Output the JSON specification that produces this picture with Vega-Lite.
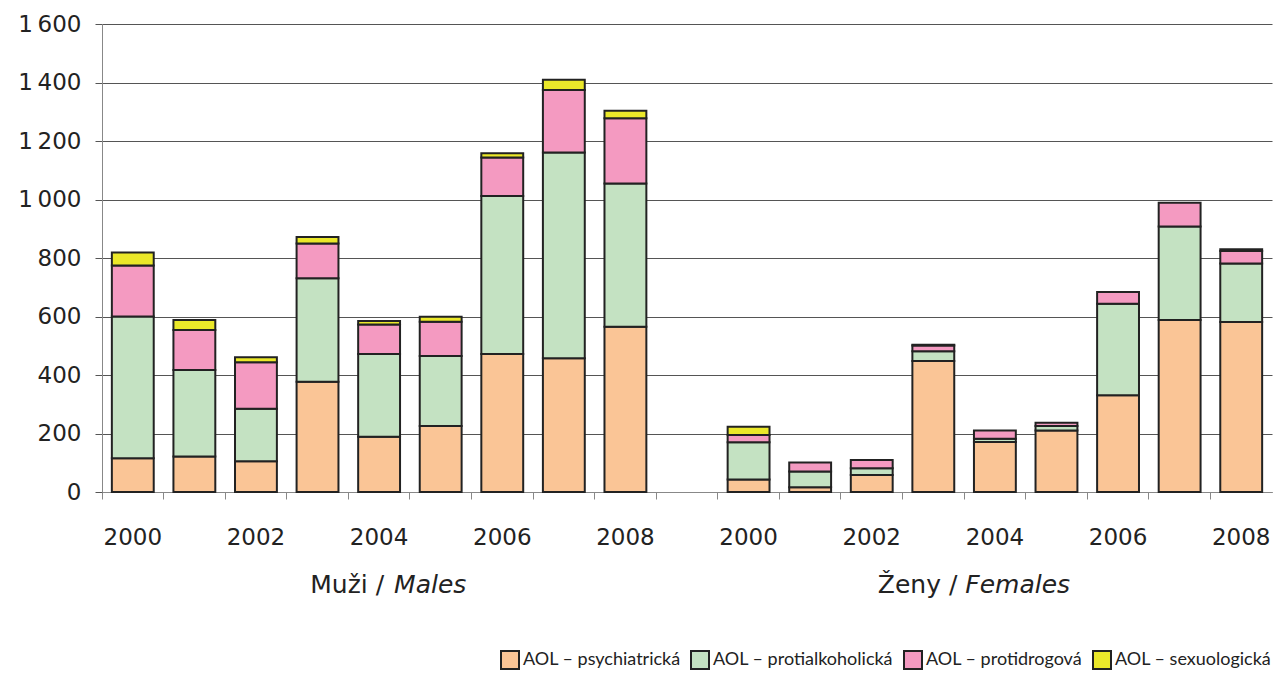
{
  "$schema": "https://vega.github.io/schema/vega-lite/v6.json",
  "width": 1170,
  "height": 468,
  "autosize": {"type": "none"},
  "padding": {"left": 102, "top": 24, "right": 8, "bottom": 181},
  "background": "white",
  "config": {"font": "DejaVu Sans", "view": {"stroke": null}, "legend": {"labelFont": "Lato"}},
  "datasets": {
    "bars": [
      {"k":"M2000","n":1,"t":"AOL – psychiatrická","v":115},{"k":"M2000","n":2,"t":"AOL – protialkoholická","v":485},{"k":"M2000","n":3,"t":"AOL – protidrogová","v":174},{"k":"M2000","n":4,"t":"AOL – sexuologická","v":45},
      {"k":"M2001","n":1,"t":"AOL – psychiatrická","v":121},{"k":"M2001","n":2,"t":"AOL – protialkoholická","v":296},{"k":"M2001","n":3,"t":"AOL – protidrogová","v":137},{"k":"M2001","n":4,"t":"AOL – sexuologická","v":34},
      {"k":"M2002","n":1,"t":"AOL – psychiatrická","v":105},{"k":"M2002","n":2,"t":"AOL – protialkoholická","v":180},{"k":"M2002","n":3,"t":"AOL – protidrogová","v":159},{"k":"M2002","n":4,"t":"AOL – sexuologická","v":17},
      {"k":"M2003","n":1,"t":"AOL – psychiatrická","v":377},{"k":"M2003","n":2,"t":"AOL – protialkoholická","v":354},{"k":"M2003","n":3,"t":"AOL – protidrogová","v":119},{"k":"M2003","n":4,"t":"AOL – sexuologická","v":22},
      {"k":"M2004","n":1,"t":"AOL – psychiatrická","v":189},{"k":"M2004","n":2,"t":"AOL – protialkoholická","v":283},{"k":"M2004","n":3,"t":"AOL – protidrogová","v":101},{"k":"M2004","n":4,"t":"AOL – sexuologická","v":12},
      {"k":"M2005","n":1,"t":"AOL – psychiatrická","v":226},{"k":"M2005","n":2,"t":"AOL – protialkoholická","v":239},{"k":"M2005","n":3,"t":"AOL – protidrogová","v":117},{"k":"M2005","n":4,"t":"AOL – sexuologická","v":17},
      {"k":"M2006","n":1,"t":"AOL – psychiatrická","v":472},{"k":"M2006","n":2,"t":"AOL – protialkoholická","v":540},{"k":"M2006","n":3,"t":"AOL – protidrogová","v":132},{"k":"M2006","n":4,"t":"AOL – sexuologická","v":14},
      {"k":"M2007","n":1,"t":"AOL – psychiatrická","v":457},{"k":"M2007","n":2,"t":"AOL – protialkoholická","v":704},{"k":"M2007","n":3,"t":"AOL – protidrogová","v":213},{"k":"M2007","n":4,"t":"AOL – sexuologická","v":35},
      {"k":"M2008","n":1,"t":"AOL – psychiatrická","v":565},{"k":"M2008","n":2,"t":"AOL – protialkoholická","v":490},{"k":"M2008","n":3,"t":"AOL – protidrogová","v":223},{"k":"M2008","n":4,"t":"AOL – sexuologická","v":25},
      {"k":"F2000","n":1,"t":"AOL – psychiatrická","v":43},{"k":"F2000","n":2,"t":"AOL – protialkoholická","v":127},{"k":"F2000","n":3,"t":"AOL – protidrogová","v":25},{"k":"F2000","n":4,"t":"AOL – sexuologická","v":28},
      {"k":"F2001","n":1,"t":"AOL – psychiatrická","v":16},{"k":"F2001","n":2,"t":"AOL – protialkoholická","v":54},{"k":"F2001","n":3,"t":"AOL – protidrogová","v":31},
      {"k":"F2002","n":1,"t":"AOL – psychiatrická","v":58},{"k":"F2002","n":2,"t":"AOL – protialkoholická","v":23},{"k":"F2002","n":3,"t":"AOL – protidrogová","v":28},
      {"k":"F2003","n":1,"t":"AOL – psychiatrická","v":448},{"k":"F2003","n":2,"t":"AOL – protialkoholická","v":33},{"k":"F2003","n":3,"t":"AOL – protidrogová","v":20},{"k":"F2003","n":4,"t":"AOL – sexuologická","v":2},
      {"k":"F2004","n":1,"t":"AOL – psychiatrická","v":171},{"k":"F2004","n":2,"t":"AOL – protialkoholická","v":11},{"k":"F2004","n":3,"t":"AOL – protidrogová","v":28},
      {"k":"F2005","n":1,"t":"AOL – psychiatrická","v":210},{"k":"F2005","n":2,"t":"AOL – protialkoholická","v":16},{"k":"F2005","n":3,"t":"AOL – protidrogová","v":11},
      {"k":"F2006","n":1,"t":"AOL – psychiatrická","v":331},{"k":"F2006","n":2,"t":"AOL – protialkoholická","v":313},{"k":"F2006","n":3,"t":"AOL – protidrogová","v":40},
      {"k":"F2007","n":1,"t":"AOL – psychiatrická","v":588},{"k":"F2007","n":2,"t":"AOL – protialkoholická","v":320},{"k":"F2007","n":3,"t":"AOL – protidrogová","v":81},
      {"k":"F2008","n":1,"t":"AOL – psychiatrická","v":581},{"k":"F2008","n":2,"t":"AOL – protialkoholická","v":200},{"k":"F2008","n":3,"t":"AOL – protidrogová","v":43},{"k":"F2008","n":4,"t":"AOL – sexuologická","v":6}
    ]
  },
  "layer": [
    {
      "data": {"name": "bars"},
      "mark": {"type": "bar", "width": {"band": 0.68}, "stroke": "#222222", "strokeWidth": 2},
      "encoding": {
        "x": {
          "field": "k", "type": "nominal",
          "scale": {"domain": ["M2000","M2001","M2002","M2003","M2004","M2005","M2006","M2007","M2008","gap","F2000","F2001","F2002","F2003","F2004","F2005","F2006","F2007","F2008"], "paddingInner": 0, "paddingOuter": 0},
          "axis": {
            "title": null, "bandPosition": 0, "labelAngle": 0,
            "labelExpr": "datum.value == 'gap' || (+substring(datum.value, 1)) % 2 == 1 ? '' : substring(datum.value, 1)",
            "labelOverlap": false, "labelFontSize": 23, "labelColor": "#222222", "labelPadding": 27,
            "domainColor": "#888888", "tickColor": "#888888", "tickSize": 7, "grid": false
          }
        },
        "y": {
          "field": "v", "type": "quantitative", "stack": "zero",
          "scale": {"domain": [0, 1600]},
          "axis": {
            "title": null, "values": [0,200,400,600,800,1000,1200,1400,1600],
            "labelExpr": "datum.value >= 1000 ? '1\u2009' + substring(toString(datum.value), 1) : toString(datum.value)",
            "labelFontSize": 23, "labelColor": "#222222", "labelPadding": 14,
            "domainColor": "#888888", "tickColor": "#555555", "tickSize": 7,
            "grid": true, "gridColor": "#555555", "gridWidth": 1
          }
        },
        "color": {
          "field": "t", "type": "nominal",
          "scale": {
            "domain": ["AOL – psychiatrická","AOL – protialkoholická","AOL – protidrogová","AOL – sexuologická"],
            "range": ["#FAC596","#C4E2C2","#F49AC1","#EBE82A"]
          },
          "legend": {
            "title": null, "orient": "none", "legendX": 398, "legendY": 626,
            "direction": "horizontal", "columns": 4, "symbolType": "square", "symbolSize": 324,
            "symbolStrokeColor": "#222222", "symbolStrokeWidth": 2,
            "labelFont": "Lato", "labelLimit": 400,
            "labelFontSize": 18, "labelColor": "#222222", "labelOffset": 3, "columnPadding": 6
          }
        },
        "order": {"field": "n", "type": "quantitative", "sort": "ascending"}
      }
    },
    {
      "data": {"values": [{"k": "M2004", "a": "Muži /"}]},
      "mark": {"type": "text", "align": "right", "baseline": "middle", "dy": 93, "dx": 5, "fontSize": 25, "color": "#222222"},
      "encoding": {"x": {"field": "k", "type": "nominal"}, "y": {"datum": 0}, "text": {"field": "a"}}
    },
    {
      "data": {"values": [{"k": "M2004", "b": "Males"}]},
      "mark": {"type": "text", "align": "left", "baseline": "middle", "dy": 93, "dx": 15, "fontSize": 25, "fontStyle": "italic", "color": "#222222"},
      "encoding": {"x": {"field": "k", "type": "nominal"}, "y": {"datum": 0}, "text": {"field": "b"}}
    },
    {
      "data": {"values": [{"k": "F2003", "a": "Ženy /"}]},
      "mark": {"type": "text", "align": "right", "baseline": "middle", "dy": 93, "dx": 24, "fontSize": 25, "color": "#222222"},
      "encoding": {"x": {"field": "k", "type": "nominal"}, "y": {"datum": 0}, "text": {"field": "a"}}
    },
    {
      "data": {"values": [{"k": "F2003", "b": "Females"}]},
      "mark": {"type": "text", "align": "left", "baseline": "middle", "dy": 93, "dx": 32, "fontSize": 25, "fontStyle": "italic", "color": "#222222"},
      "encoding": {"x": {"field": "k", "type": "nominal"}, "y": {"datum": 0}, "text": {"field": "b"}}
    }
  ]
}
